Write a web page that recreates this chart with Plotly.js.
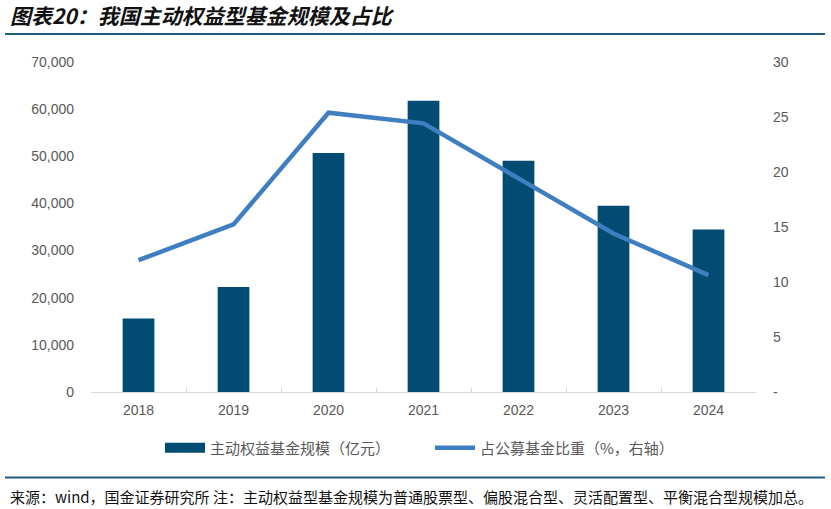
<!DOCTYPE html>
<html>
<head>
<meta charset="utf-8">
<script src="https://cdn.plot.ly/plotly-3.0.1.min.js"></script>
<style>
  html, body { margin: 0; padding: 0; background: #fff; }
  #chart { width: 831px; height: 509px; }
</style>
</head>
<body>
<div id="chart"></div>
<script>
// Years on the category axis
const years = ['2018', '2019', '2020', '2021', '2022', '2023', '2024'];
// Active equity fund size, 100 million yuan (left axis)
const fundSize = [15580, 22290, 50680, 61780, 49040, 39490, 34480];
// Share of all public funds, % (right axis)
const shareOfPublic = [11.98, 15.23, 25.39, 24.42, 19.42, 14.41, 10.62];

const rightTicks = [0, 5, 10, 15, 20, 25, 30];
const rightTickText = ['-', '5', '10', '15', '20', '25', '30'];

const TICK_FONT = { family: 'Liberation Sans, Arial, sans-serif', size: 14, color: '#595959' };
const CJK = 'Noto Sans CJK SC, sans-serif';

const bars = {
  type: 'bar',
  name: '主动权益基金规模（亿元）',
  x: years,
  y: fundSize,
  width: 0.334,
  marker: { color: '#024b72', line: { width: 0 } },
  hoverinfo: 'skip',
};

const share = {
  type: 'scatter',
  mode: 'lines',
  name: '占公募基金比重（%，右轴）',
  x: years,
  y: shareOfPublic,
  yaxis: 'y2',
  line: { color: '#3f7fc1', width: 4.5 },
  hoverinfo: 'skip',
};

const layout = {
  width: 831,
  height: 509,
  paper_bgcolor: '#fff',
  plot_bgcolor: '#fff',
  margin: { l: 91, r: 75, t: 62, b: 117 },
  font: { family: CJK, size: 14, color: '#595959' },
  title: {
    text: '<b><i>图表20：我国主动权益型基金规模及占比</i></b>',
    font: { family: CJK, size: 21, color: '#111' },
    x: 0.012, xanchor: 'left', xref: 'container',
    y: 1 - 17 / 509, yanchor: 'middle', yref: 'container',
  },
  showlegend: true,
  legend: {
    orientation: 'h',
    x: (160 - 91) / 665, xanchor: 'left',
    y: (392 - 448) / 330, yanchor: 'middle',
    font: { family: CJK, size: 15, color: '#595959' },
    itemwidth: 40,
    entrywidth: 215,
  },
  xaxis: {
    type: 'category',
    showline: true,
    linecolor: '#d9d9d9',
    linewidth: 1,
    ticks: 'inside',
    tickson: 'boundaries',
    ticklen: 4,
    tickcolor: '#d9d9d9',
    tickfont: TICK_FONT,
    ticklabelstandoff: 5,
    showgrid: false,
    zeroline: false,
  },
  yaxis: {
    range: [0, 70000],
    tickvals: [0, 10000, 20000, 30000, 40000, 50000, 60000, 70000],
    tickformat: ',',
    tickfont: TICK_FONT,
    showgrid: false,
    zeroline: false,
    showline: false,
    ticklabelstandoff: 16,
  },
  yaxis2: {
    overlaying: 'y',
    side: 'right',
    range: [0, 30],
    tickvals: rightTicks,
    ticktext: rightTickText,
    tickfont: TICK_FONT,
    showgrid: false,
    zeroline: false,
    showline: false,
    ticklabelstandoff: 16,
  },
  shapes: [
    { type: 'line', xref: 'paper', yref: 'paper',
      x0: (5 - 91) / 665, x1: (825 - 91) / 665,
      y0: (392 - 34) / 330, y1: (392 - 34) / 330,
      line: { color: '#1f5a80', width: 2 } },
    { type: 'line', xref: 'paper', yref: 'paper',
      x0: (5 - 91) / 665, x1: (825 - 91) / 665,
      y0: (392 - 477.5) / 330, y1: (392 - 477.5) / 330,
      line: { color: '#1f5a80', width: 2 } },
  ],
  annotations: [
    {
      xref: 'paper', yref: 'paper',
      x: (8 - 91) / 665, xanchor: 'left',
      y: (392 - 496) / 330, yanchor: 'middle',
      showarrow: false,
      text: '来源：wind，国金证券研究所 注：主动权益型基金规模为普通股票型、偏股混合型、灵活配置型、平衡混合型规模加总。',
      font: { family: CJK, size: 15, color: '#111' },
    },
  ],
};

// widen the bar swatch in the legend to a flat rectangle
function widenBarSwatch() {
  document.querySelectorAll('g.legendpoints path').forEach(p => {
    const d = p.getAttribute('d') || '';
    if (d.indexOf('M6,6H-6V-6H6Z') === 0) p.setAttribute('d', 'M20,5H-20V-5H20Z');
  });
}

const gd = document.getElementById('chart');
Plotly.newPlot(gd, [bars, share], layout, { displayModeBar: false, staticPlot: true })
  .then(() => {
    widenBarSwatch();
    gd.on('plotly_afterplot', widenBarSwatch);
  });
</script>
</body>
</html>
